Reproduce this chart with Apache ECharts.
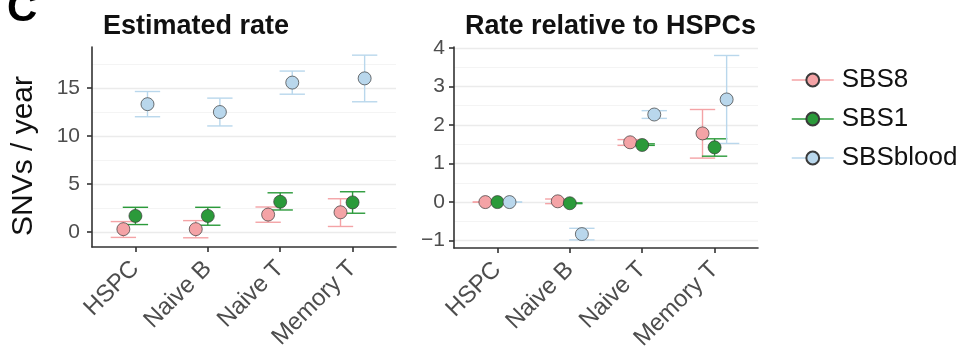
<!DOCTYPE html>
<html>
<head>
<meta charset="utf-8">
<script src="https://cdn.jsdelivr.net/npm/echarts@6/dist/echarts.min.js"></script>
<style>
  html, body { margin: 0; padding: 0; background: #fff; }
  #chart { width: 973px; height: 349px; }
</style>
</head>
<body>
<div id="chart"></div>
<script>
// categories and signatures
var cellTypes = ['HSPC', 'Naive B', 'Naive T', 'Memory T'];
var signatures = ['SBS8', 'SBS1', 'SBSblood'];

// estimated rate, SNVs / year: [estimate, lower, upper] per cell type
var rateSBS8 = [[0.31, -0.55, 1.10], [0.31, -0.59, 1.20], [1.83, 1.03, 2.62], [2.07, 0.59, 3.48]];
var rateSBS1 = [[1.69, 0.79, 2.59], [1.69, 0.72, 2.59], [3.17, 2.31, 4.10], [3.10, 1.97, 4.21]];
var rateSBSblood = [[13.34, 12.03, 14.66], [12.52, 11.07, 13.97], [15.59, 14.38, 16.79], [16.03, 13.59, 18.45]];

// rate relative to HSPCs
var relSBS8 = [[0, 0, 0], [0.02, -0.04, 0.08], [1.55, 1.47, 1.62], [1.78, 1.14, 2.40]];
var relSBS1 = [[0, 0, 0], [-0.03, -0.04, -0.02], [1.48, 1.47, 1.51], [1.42, 1.19, 1.64]];
var relSBSblood = [[0, 0, 0], [-0.83, -0.98, -0.68], [2.27, 2.17, 2.37], [2.66, 1.52, 3.80]];

// tick labels
var rateTicks = [0, 5, 10, 15];
var rateMinor = [2.5, 7.5, 12.5, 17.5];
var relTicks = [-1, 0, 1, 2, 3, 4];
var relMinor = [-0.5, 0.5, 1.5, 2.5, 3.5];

var colors = { SBS8: '#F4A3A6', SBS1: '#2B9A3A', SBSblood: '#B9D7EC' };
var dodge = { SBS8: -1 / 6, SBS1: 0, SBSblood: 1 / 6 };
var font = "'Liberation Sans', Arial, Helvetica, sans-serif";

var myChart = echarts.init(document.getElementById('chart'));

function renderErrorBar(params, api) {
	var x = api.value(0);
	var lo = api.coord([x, api.value(1)]);
	var hi = api.coord([x, api.value(2)]);
	var half = api.size([0.35, 0])[0] / 2;
	var style = { stroke: api.visual('color'), lineWidth: 1.4 };
	return {
		type: 'group',
		children: [
			{ type: 'line', shape: { x1: lo[0], y1: hi[1], x2: lo[0], y2: lo[1] }, style: style },
			{ type: 'line', shape: { x1: lo[0] - half, y1: hi[1], x2: lo[0] + half, y2: hi[1] }, style: style },
			{ type: 'line', shape: { x1: lo[0] - half, y1: lo[1], x2: lo[0] + half, y2: lo[1] }, style: style }
		]
	};
}

function gridLines(major, minor) {
	var d = [];
	major.forEach(function (v) {
		d.push({ yAxis: v, lineStyle: { color: '#EBEBEB', width: 1.3, type: 'solid' } });
	});
	minor.forEach(function (v) {
		d.push({ yAxis: v, lineStyle: { color: '#F3F3F3', width: 0.9, type: 'solid' } });
	});
	return d;
}

function buildSeries(panel, rows, name, axisIdx, marks) {
	var off = dodge[name];
	var bars = rows.map(function (r, i) { return [i + 1 + off, r[1], r[2]]; });
	var pts = rows.map(function (r, i) { return [i + 1 + off, r[0]]; });
	var err = {
		type: 'custom',
		name: name + ' ' + panel,
		xAxisIndex: axisIdx,
		yAxisIndex: axisIdx,
		renderItem: renderErrorBar,
		itemStyle: { color: colors[name] },
		encode: { x: 0, y: [1, 2] },
		data: bars,
		z: 2,
		silent: true
	};
	if (marks) {
		err.markLine = {
			silent: true,
			symbol: 'none',
			z: 0,
			label: { show: false },
			data: marks
		};
	}
	var point = {
		type: 'line',
		name: name,
		xAxisIndex: axisIdx,
		yAxisIndex: axisIdx,
		data: pts,
		symbol: 'circle',
		symbolSize: 13,
		showSymbol: true,
		lineStyle: { width: 0, color: colors[name] },
		itemStyle: { color: colors[name], borderColor: '#3A3A3A', borderWidth: 0.7 },
		emphasis: { disabled: true },
		z: 4
	};
	return [err, point];
}

var series = [];
series = series.concat(buildSeries('rate', rateSBS8, 'SBS8', 0, gridLines(rateTicks, rateMinor)));
series = series.concat(buildSeries('rate', rateSBS1, 'SBS1', 0));
series = series.concat(buildSeries('rate', rateSBSblood, 'SBSblood', 0));
series = series.concat(buildSeries('rel', relSBS8, 'SBS8', 1, gridLines(relTicks, relMinor)));
series = series.concat(buildSeries('rel', relSBS1, 'SBS1', 1));
series = series.concat(buildSeries('rel', relSBSblood, 'SBSblood', 1));

var axisColor = { color: '#333333', width: 1.6 };

function xAxisFor(idx) {
	return {
		type: 'value',
		gridIndex: idx,
		min: 0.4,
		max: 4.6,
		axisLine: { show: true, onZero: false, lineStyle: axisColor },
		axisTick: { show: true, length: 5, lineStyle: axisColor, customValues: [1, 2, 3, 4] },
		splitLine: { show: false },
		axisLabel: {
			customValues: [1, 2, 3, 4],
			rotate: 45,
			margin: 18,
			color: '#4D4D4D',
			fontSize: 24,
			fontFamily: font,
			formatter: function (v) { return cellTypes[Math.round(v) - 1]; }
		}
	};
}

option = {
	animation: false,
	backgroundColor: '#ffffff',
	title: [{
		text: 'C',
		left: 2,
		top: -17,
		textStyle: { fontSize: 42, fontWeight: 'bold', color: '#000', fontFamily: font }
	}, {
		text: 'Estimated rate',
		left: 98,
		top: 8,
		textStyle: { fontSize: 27, fontWeight: 'bold', color: '#111', fontFamily: font }
	}, {
		text: 'Rate relative to HSPCs',
		left: 460,
		top: 8,
		textStyle: { fontSize: 27, fontWeight: 'bold', color: '#111', fontFamily: font }
	}],
	legend: {
		data: signatures,
		orient: 'vertical',
		left: 791,
		top: 67,
		padding: 0,
		itemWidth: 42,
		itemHeight: 16,
		itemGap: 13,
		lineStyle: { width: 1.5 },
		textStyle: { fontSize: 26, color: '#111', fontFamily: font, padding: [0, 0, 0, 3] }
	},
	grid: [
		{ left: 92, top: 47, width: 304, height: 200, outerBoundsMode: 'none', containLabel: false },
		{ left: 454, top: 47, width: 304, height: 201, outerBoundsMode: 'none', containLabel: false }
	],
	xAxis: [xAxisFor(0), xAxisFor(1)],
	yAxis: [{
		type: 'value',
		gridIndex: 0,
		min: -1.55,
		max: 19.3,
		name: 'SNVs / year',
		nameLocation: 'middle',
		nameGap: 53,
		nameTextStyle: { fontSize: 30, color: '#111', fontFamily: font, padding: [0, 18, 0, 0] },
		axisLine: { show: true, lineStyle: axisColor },
		axisTick: { show: true, length: 5, lineStyle: axisColor, customValues: rateTicks },
		splitLine: { show: false },
		axisLabel: {
			customValues: rateTicks,
			margin: 12,
			color: '#4D4D4D',
			fontSize: 21,
			fontFamily: font
		}
	}, {
		type: 'value',
		gridIndex: 1,
		min: -1.19,
		max: 4.02,
		axisLine: { show: true, lineStyle: axisColor },
		axisTick: { show: true, length: 5, lineStyle: axisColor, customValues: relTicks },
		splitLine: { show: false },
		axisLabel: {
			customValues: relTicks,
			margin: 9,
			color: '#4D4D4D',
			fontSize: 21,
			fontFamily: font,
			formatter: function (v) { return String(v).replace('-', '\u2212'); }
		}
	}],
	series: series
};

myChart.setOption(option);

window.addEventListener('resize', function () {
	myChart.resize();
});
</script>
</body>
</html>
